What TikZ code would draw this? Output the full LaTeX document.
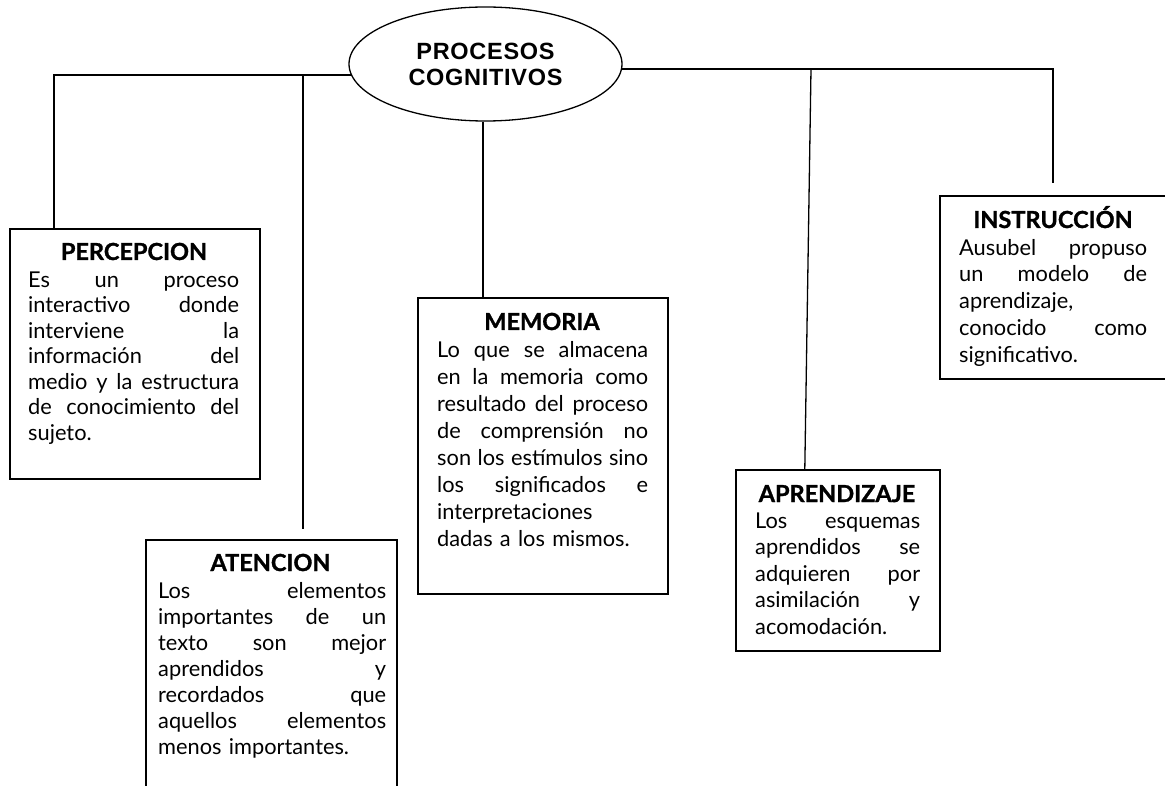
\documentclass[tikz,border=0pt]{standalone}
\usepackage{fontspec}
\setmainfont{Lato}
\newfontfamily\titlefont[LetterSpace=3]{Liberation Sans}
\newfontfamily\ttlfont[BoldFeatures={FakeBold=1.2}]{Lato}
\usetikzlibrary{shapes.geometric,calc}
\newcommand{\jline}[2]{\strut\makebox[#1][s]{\spaceskip=\fontdimen2\font plus 1fil minus \fontdimen4\font\relax #2}}
\newcommand{\lline}[1]{\strut #1}
\begin{document}
\begin{tikzpicture}[x=1pt,y=-1pt,
  conn/.style={line width=1.3pt},
  boxnode/.style={draw,line width=1.6pt,rectangle,anchor=north west,inner sep=0pt},
  ttl/.style={font={\ttlfont\bfseries\fontsize{23.5}{26}\selectfont},inner sep=0pt,anchor=base},
  bodytxt/.style={inner sep=0pt,anchor=north west,align=left}]
\useasboundingbox (0,0) rectangle (1165,786);
\clip (0,0) rectangle (1165,786);
\fill[white] (0,0) rectangle (1165,786);

% central ellipse
\node[draw,ellipse,line width=1.3pt,minimum width=273pt,minimum height=114pt,inner sep=0pt,
      align=center,font={\titlefont\bfseries\fontsize{23.5}{26}\selectfont}] (pc) at (485.5,64) {PROCESOS\\COGNITIVOS};

% boxes
\node[boxnode,minimum width=250pt,minimum height=250pt] (perc) at (9,228) {};
\node[boxnode,minimum width=251pt,minimum height=270pt] (aten) at (145,539) {};
\node[boxnode,minimum width=250pt,minimum height=296pt] (memo) at (417,297) {};
\node[boxnode,minimum width=204pt,minimum height=181pt] (apre) at (735,469) {};
\node[boxnode,minimum width=240pt,minimum height=183pt] (inst) at (939,195) {};

% titles
\node[ttl] (percT) at (134,260) {PERCEPCION};
\node[ttl] (atenT) at (270.5,571) {ATENCION};
\node[ttl] (memoT) at (542,330) {MEMORIA};
\node[ttl] (apreT) at (837,502) {APRENDIZAJE};
\node[ttl] (instT) at (1053,228) {INSTRUCCIÓN};

% body texts
\node[bodytxt,text width=211pt,font={\fontsize{21.8}{25.5}\selectfont}] (percB) at (28,269.2) {%
\jline{211pt}{Es un proceso}\\
\jline{211pt}{interactivo donde}\\
\jline{211pt}{interviene la}\\
\jline{211pt}{información del}\\
\jline{211pt}{medio y la estructura}\\
\jline{211pt}{de conocimiento del}\\
\lline{sujeto.}};

\node[bodytxt,text width=228pt,font={\fontsize{21.8}{26}\selectfont}] (atenB) at (158,579.8) {%
\jline{228pt}{Los elementos}\\
\jline{228pt}{importantes de un}\\
\jline{228pt}{texto son mejor}\\
\jline{228pt}{aprendidos y}\\
\jline{228pt}{recordados que}\\
\jline{228pt}{aquellos elementos}\\
\lline{menos importantes.}};

\node[bodytxt,text width=211pt,font={\fontsize{21.8}{27}\selectfont}] (memoB) at (437,338) {%
\jline{211pt}{Lo que se almacena}\\
\jline{211pt}{en la memoria como}\\
\jline{211pt}{resultado del proceso}\\
\jline{211pt}{de comprensión no}\\
\jline{211pt}{son los estímulos sino}\\
\jline{211pt}{los significados e}\\
\lline{interpretaciones}\\
\lline{dadas a los mismos.}};

\node[bodytxt,text width=165pt,font={\fontsize{21.8}{26.5}\selectfont}] (apreB) at (755,509.5) {%
\jline{165pt}{Los esquemas}\\
\jline{165pt}{aprendidos se}\\
\jline{165pt}{adquieren por}\\
\jline{165pt}{asimilación y}\\
\lline{acomodación.}};

\node[bodytxt,text width=188pt,font={\fontsize{21.8}{26.8}\selectfont}] (instB) at (959,236.2) {%
\jline{188pt}{Ausubel propuso}\\
\jline{188pt}{un modelo de}\\
\lline{aprendizaje,}\\
\jline{188pt}{conocido como}\\
\lline{significativo.}};

% junctions
\coordinate (jp) at (54,75);
\coordinate (ja) at (303,75);
\coordinate (jr) at (811,69);
\coordinate (ji) at (1053,69);

% connectors
\draw[conn] ($(pc.center)+(-133.9,11)$) -- (jp) -- (jp |- perc.north);
\draw[conn] (ja) -- ($(ja |- aten.north)+(0,-10)$);
\draw[conn] ($(pc.south)+(-2.5,0)$) -- ($(pc.south |- memo.north)+(-2.5,0)$);
\draw[conn] ($(pc.center)+(136,5)$) -- (ji) -- ($(ji |- inst.north)+(0,-12)$);
\draw[conn] (jr) -- ($(apre.north)+(-33,0)$);
\end{tikzpicture}
\end{document}
